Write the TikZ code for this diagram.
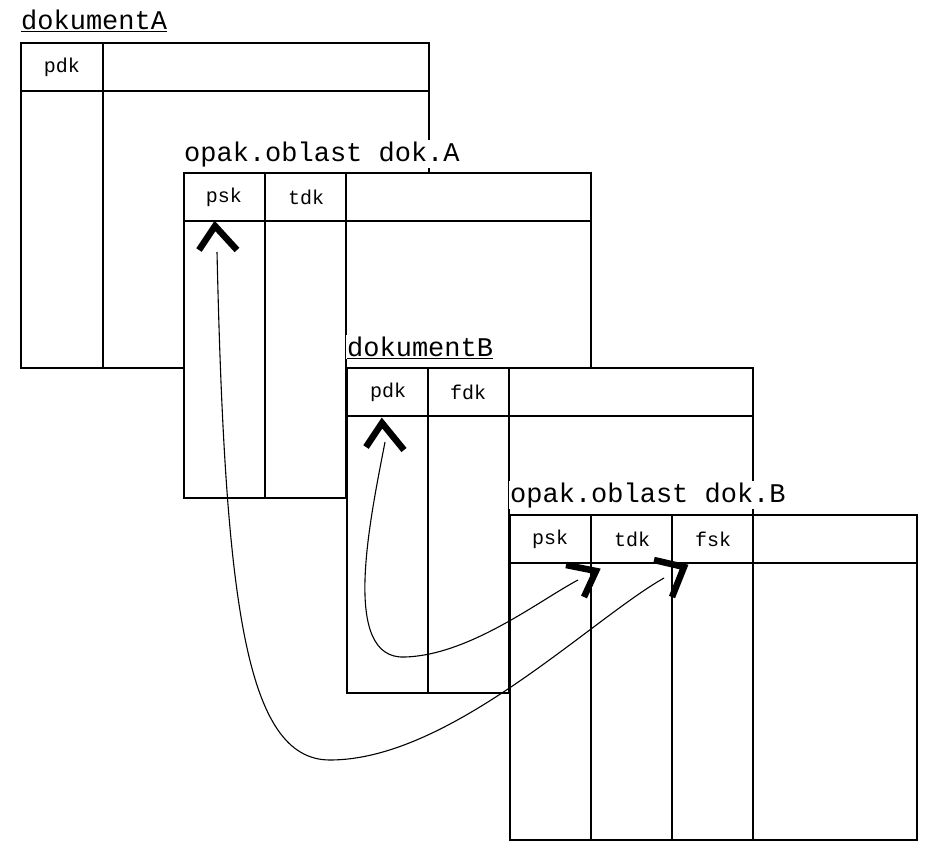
\documentclass[tikz,border=0pt]{standalone}
\usepackage{fontspec}
\setmainfont{Liberation Mono}
\begin{document}
\begin{tikzpicture}[x=1pt,y=-1pt,
  tbl/.style={fill=white,draw=black,line width=1.5pt},
  ln/.style={line width=1.5pt},
  hd/.style={font=\fontsize{20}{22}\selectfont,anchor=center},
  ttl/.style={font=\fontsize{27}{29}\selectfont,anchor=base west,fill=white,inner sep=1pt},
  chev/.style={line width=6.5pt,miter limit=10},
  cur/.style={line width=1.1pt}]
\useasboundingbox (0,0) rectangle (929,855);
% table A
\node[ttl] (tA) at (20,29) {\underline{dokumentA}};
\draw[tbl] (21,43) rectangle (429,368);
\draw[ln] (21,91)--(429,91) (103,43)--(103,368);
\node[hd] (a1) at (62,67) {pdk};
% table A'
\node[ttl] (tAp) at (183,161) {opak.oblast dok.A};
\draw[tbl] (184,173) rectangle (591,498);
\draw[ln] (184,221)--(591,221) (265,173)--(265,498) (346,173)--(346,498);
\node[hd] (ap1) at (224,197) {psk};
\node[hd] (ap2) at (306,197) {tdk};
% table B
\node[ttl] (tB) at (346,356) {\underline{dokumentB}};
\draw[tbl] (347,368) rectangle (753,693);
\draw[ln] (347,416)--(753,416) (428,368)--(428,693) (509,368)--(509,693);
\node[hd] (b1) at (388,392) {pdk};
\node[hd] (b2) at (468,392) {fdk};
% table B'
\node[ttl] (tBp) at (509,502) {opak.oblast dok.B};
\draw[tbl] (510,515) rectangle (917,840);
\draw[ln] (510,563)--(917,563) (591,515)--(591,840) (672,515)--(672,840) (753,515)--(753,840);
\node[hd] (bp1) at (550,539) {psk};
\node[hd] (bp2) at (632,539) {tdk};
\node[hd] (bp3) at (713,539) {fsk};
% curves
\draw[cur] (217,252) .. controls (225,600) and (245,760) .. (330,760) .. controls (450,760) and (590,620) .. (664,578);
\draw[cur] (385,442) .. controls (370,520) and (340,660) .. (405,657) .. controls (470,655) and (540,600) .. (578,580);
% chevrons
\draw[chev] (199,250)--(215,226)--(237,250);
\draw[chev] (366,447)--(382,423)--(404,450);
\draw[chev] (566,565)--(596,571)--(584,597);
\draw[chev] (654,560)--(684,567)--(672,597);
\end{tikzpicture}
\end{document}
